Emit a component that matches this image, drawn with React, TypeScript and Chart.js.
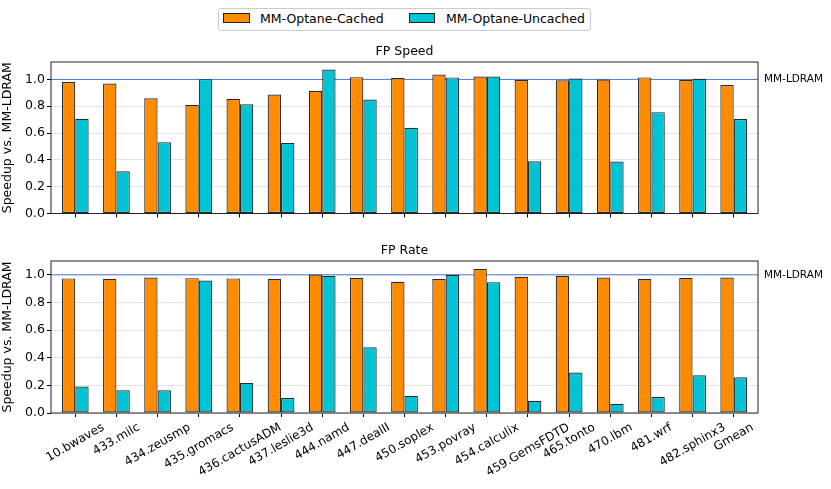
import React, { useEffect, useRef } from "react"
import { Chart, registerables } from "chart.js"

Chart.register(...registerables)
Chart.defaults.font.family = "DejaVu Sans"

const benchmarks = [
    "10.bwaves", "433.milc", "434.zeusmp", "435.gromacs", "436.cactusADM", "437.leslie3d",
    "444.namd", "447.dealII", "450.soplex", "453.povray", "454.calculix", "459.GemsFDTD",
    "465.tonto", "470.lbm", "481.wrf", "482.sphinx3", "Gmean",
]
const seriesNames = ["MM-Optane-Cached", "MM-Optane-Uncached"]
const baselineName = "MM-LDRAM"
const baselineValue = 1.0

const speedCached = [0.98, 0.97, 0.86, 0.81, 0.855, 0.887, 0.916, 1.017, 1.01, 1.037, 1.022, 0.995, 0.993, 1.0, 1.015, 0.995, 0.958]
const speedUncached = [0.707, 0.315, 0.532, 1.002, 0.815, 0.525, 1.074, 0.85, 0.64, 1.015, 1.022, 0.389, 1.007, 0.387, 0.756, 1.005, 0.704]
const rateCached = [0.974, 0.971, 0.981, 0.976, 0.974, 0.971, 1.002, 0.978, 0.95, 0.969, 1.043, 0.986, 0.993, 0.981, 0.971, 0.978, 0.981]
const rateUncached = [0.192, 0.165, 0.165, 0.959, 0.218, 0.108, 0.993, 0.475, 0.125, 1.0, 0.947, 0.089, 0.293, 0.067, 0.115, 0.273, 0.259]

const ORANGE = "#ff8c00"
const CYAN = "#00c4d4"
const EDGE = "#2a2a2a"

interface IPanel {
    title: string
    cached: number[]
    uncached: number[]
    yMax: number
    top: number
    height: number
    padTop: number
    xAxisHeight: number
    showLabels: boolean
}

const Panel = ({ title, cached, uncached, yMax, top, height, padTop, xAxisHeight, showLabels }: IPanel) => {
    const chartRef = useRef<HTMLCanvasElement | null>(null)

    useEffect(() => {
        const ctx = chartRef.current?.getContext("2d")
        if (!ctx) return

        const overlay = {
            id: "overlay",
            beforeDatasetsDraw(chart: any) {
                // reference line behind the bars
                const { ctx: c, chartArea } = chart
                const y = chart.scales.y.getPixelForValue(baselineValue)
                c.save()
                c.strokeStyle = "#4a7ad8"
                c.lineWidth = 1
                c.beginPath()
                c.moveTo(chartArea.left, y)
                c.lineTo(chartArea.right, y)
                c.stroke()
                c.restore()
            },
            afterDraw(chart: any) {
                const { ctx: c, chartArea } = chart
                const { left, right, top: t, bottom } = chartArea
                c.save()
                c.strokeStyle = "#222"
                c.lineWidth = 1
                c.strokeRect(left, t, right - left, bottom - t)

                c.fillStyle = "#000"
                c.font = "12.5px 'DejaVu Sans'"
                c.textAlign = "center"
                c.textBaseline = "middle"
                c.fillText(title, (left + right) / 2, t - 10.5)

                c.font = "10.5px 'DejaVu Sans'"
                c.textAlign = "left"
                c.fillText(baselineName, right + 6, chart.scales.y.getPixelForValue(baselineValue))

                if (showLabels) {
                    // rotated labels, centred on the tick like matplotlib
                    c.font = "12px 'DejaVu Sans'"
                    c.textAlign = "center"
                    const ang = Math.PI / 6
                    const h = 14
                    const y0 = bottom + 7.5
                    benchmarks.forEach((label, i) => {
                        const x = chart.scales.x.getPixelForValue(i)
                        const w = c.measureText(label).width
                        const H = w * Math.sin(ang) + h * Math.cos(ang)
                        c.save()
                        c.translate(x, y0 + H / 2)
                        c.rotate(-ang)
                        c.fillText(label, 0, 0)
                        c.restore()
                    })
                }
                c.restore()
            },
        }

        const chart = new Chart(ctx, {
            type: "bar",
            data: {
                datasets: [
                    {
                        label: seriesNames[0],
                        data: cached.map((v, i) => ({ x: i, y: v })),
                        backgroundColor: ORANGE,
                        borderColor: EDGE,
                        borderWidth: 1.2,
                        borderSkipped: false,
                    },
                    {
                        label: seriesNames[1],
                        data: uncached.map((v, i) => ({ x: i, y: v })),
                        backgroundColor: CYAN,
                        borderColor: EDGE,
                        borderWidth: 1.2,
                        borderSkipped: false,
                    },
                ],
            } as any,
            options: {
                animation: false,
                responsive: true,
                maintainAspectRatio: false,
                categoryPercentage: 0.65,
                barPercentage: 1.0,
                layout: { padding: { top: padTop, right: 73, left: 0, bottom: 0 } },
                plugins: { legend: { display: false }, tooltip: { enabled: false }, title: { display: false } },
                scales: {
                    x: {
                        type: "linear",
                        min: -0.59,
                        max: 16.59,
                        offset: false,
                        grid: { display: true, drawOnChartArea: false, drawTicks: true, tickLength: 4, tickColor: "#000", offset: false },
                        border: { display: false },
                        ticks: { display: false, stepSize: 1, includeBounds: false, autoSkip: false, maxTicksLimit: 100 },
                        afterFit: (s: any) => {
                            s.height = xAxisHeight
                        },
                    },
                    y: {
                        min: 0,
                        max: yMax,
                        grid: { color: "#e3e3e3", lineWidth: 1, tickColor: "#000", tickLength: 4, drawTicks: true },
                        border: { display: false },
                        ticks: {
                            stepSize: 0.2,
                            includeBounds: false,
                            padding: 2,
                            color: "#000",
                            font: { size: 12.5 },
                            callback: (v: any) => Number(v).toFixed(1),
                        },
                        title: {
                            display: true,
                            text: "Speedup vs. MM-LDRAM",
                            color: "#000",
                            font: { size: 12.5 },
                            padding: { top: 0, bottom: 0 },
                        },
                        afterFit: (s: any) => {
                            s.width = 51
                        },
                    },
                },
            } as any,
            plugins: [overlay],
        })

        return () => {
            chart.destroy()
        }
    }, [title, cached, uncached, yMax, padTop, xAxisHeight, showLabels])

    return (
        <div style={{ position: "absolute", left: 0, top, width: 831, height }}>
            <canvas ref={chartRef} />
        </div>
    )
}

const Legend = () => {
    const text: React.CSSProperties = {
        position: "absolute",
        top: 10.5,
        lineHeight: "15px",
        fontSize: 12.5,
        fontFamily: "DejaVu Sans",
        color: "#000",
        whiteSpace: "nowrap",
    }
    const swatch: React.CSSProperties = {
        position: "absolute",
        top: 13,
        height: 10,
        boxSizing: "border-box",
        border: "1px solid #222",
    }
    return (
        <>
            <div
                style={{
                    position: "absolute",
                    left: 218,
                    top: 8,
                    width: 373,
                    height: 23,
                    boxSizing: "border-box",
                    border: "1px solid #cccccc",
                    borderRadius: 3,
                }}
            />
            <div style={{ ...swatch, left: 223, width: 27, background: ORANGE }} />
            <span style={{ ...text, left: 260 }}>{seriesNames[0]}</span>
            <div style={{ ...swatch, left: 409, width: 26, background: CYAN }} />
            <span style={{ ...text, left: 446 }}>{seriesNames[1]}</span>
        </>
    )
}

const App = () => {
    return (
        <div style={{ position: "fixed", left: 0, top: 0, width: 831, height: 489, background: "#fff", overflow: "hidden" }}>
            <Legend />
            <Panel title="FP Speed" cached={speedCached} uncached={speedUncached} yMax={1.13}
                top={40} height={183} padTop={22} xAxisHeight={8} showLabels={false} />
            <Panel title="FP Rate" cached={rateCached} uncached={rateUncached} yMax={1.1}
                top={238} height={251} padTop={23} xAxisHeight={76} showLabels={true} />
        </div>
    )
}

export default App
